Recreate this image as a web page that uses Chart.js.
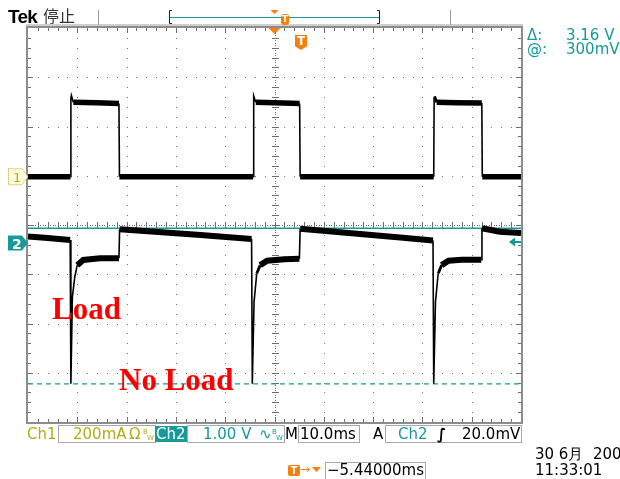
<!DOCTYPE html>
<html>
<head>
<meta charset="utf-8">
<script src="https://cdn.jsdelivr.net/npm/chart.js@4.4.1/dist/chart.umd.min.js"></script>
<style>
  body { margin: 0; background: #fff; }
  #scope { position: relative; width: 620px; height: 479px; overflow: hidden; }
  #scope canvas { position: absolute; left: 0; top: 0; }
  .t { position: absolute; font: 15px 'DejaVu Sans', sans-serif; line-height: 15px; white-space: pre; }
  .olive { color: #b2ac14; }
  .teal { color: #17999a; }
  .box { position: absolute; border: 1px solid #a8a8a8; box-sizing: border-box; }
  .bw { position: absolute; font: 7px 'DejaVu Sans', sans-serif; line-height: 7px; }
  .note { position: absolute; font: bold 31px 'Liberation Serif', serif; line-height: 31px; color: #ff0000; white-space: pre; }
  .tag { position: absolute; background: #f77f0c; color: #fff; font: bold 10px 'DejaVu Sans', sans-serif; text-align: center; }
</style>
</head>
<body>
<div id="scope">
  <canvas id="wave" width="620" height="479"></canvas>

  <div class="t" style="left:8px;top:7px;font:bold 19px 'Liberation Sans',sans-serif;line-height:19px;letter-spacing:-0.8px;">Tek</div>
  <div class="t" style="left:43px;top:7px;font:16px 'Noto Sans CJK SC',sans-serif;line-height:16px;color:#333;">停止</div>

  <div class="tag" style="left:281px;top:14px;width:8px;height:11px;line-height:11px;border-radius:3px;font-size:9px;">T</div>
  <div class="tag" style="left:295px;top:35px;width:12px;height:15px;line-height:13px;font-size:12px;clip-path:polygon(0 0,100% 0,100% 75%,50% 100%,0 75%);">T</div>

  <div class="t teal" style="left:527px;top:28px;">Δ:</div>
  <div class="t teal" style="left:566px;top:28px;">3.16 V</div>
  <div class="t teal" style="left:527px;top:42px;">@:</div>
  <div class="t teal" style="left:566px;top:42px;">300mV</div>

  <div class="t olive" style="left:13px;top:170px;font-size:13px;">1</div>
  <div class="t" style="left:12px;top:236px;font:bold 14px 'DejaVu Sans',sans-serif;color:#fff;">2</div>

  <div class="note" style="left:52px;top:293px;">Load</div>
  <div class="note" style="left:119px;top:364px;">No Load</div>

  <!-- status bar -->
  <div class="t olive" style="left:27px;top:427px;">Ch1</div>
  <div class="box" style="left:58px;top:425px;width:98px;height:18px;"></div>
  <div class="t olive" style="left:73px;top:427px;">200mA</div>
  <div class="t olive" style="left:129px;top:427px;">Ω</div>
  <div class="bw olive" style="left:143px;top:429px;">B</div>
  <div class="bw olive" style="left:147px;top:435px;">W</div>
  <div style="position:absolute;left:155px;top:426px;width:32px;height:16px;background:#17999a;"></div>
  <div class="t" style="left:156px;top:427px;color:#fff;">Ch2</div>
  <div class="box" style="left:187px;top:425px;width:98px;height:18px;"></div>
  <div class="t teal" style="left:203px;top:427px;">1.00 V</div>
  <div class="t teal" style="left:259px;top:427px;">∿</div>
  <div class="bw teal" style="left:272px;top:429px;">B</div>
  <div class="bw teal" style="left:276px;top:435px;">W</div>
  <div class="t" style="left:285px;top:427px;">M</div>
  <div class="box" style="left:298px;top:425px;width:62px;height:18px;"></div>
  <div class="t" style="left:300px;top:427px;">10.0ms</div>
  <div class="t" style="left:373px;top:427px;">A</div>
  <div class="box" style="left:385px;top:425px;width:137px;height:18px;"></div>
  <div class="t teal" style="left:398px;top:427px;">Ch2</div>
  <div class="t" style="left:437px;top:427px;font-weight:bold;">∫</div>
  <div class="t" style="left:462px;top:427px;">20.0mV</div>

  <div class="tag" style="left:288px;top:465px;width:12px;height:11px;line-height:11px;border-radius:2px;">T</div>
  <div class="t" style="left:300px;top:462px;color:#f77f0c;font-size:12px;">→</div>
  <div class="box" style="left:325px;top:462px;width:101px;height:18px;"></div>
  <div class="t" style="left:327px;top:463px;">−5.44000ms</div>
  <div class="t" style="left:535px;top:447px;">30 6月  200</div>
  <div class="t" style="left:535px;top:463px;">11:33:01</div>
</div>

<script>
// time in ms, 10 ms/div, screen centre = 0
const timeRange = [-50, 50]

// Ch1 : load current, mA (200 mA/div)
const ch1Time = [-50, -41.38, -41.3, -41.2, -40.8, -36, -31.55, -31.45,
  -4.35, -4.27, -4.17, -3.8, 0, 5.1, 5.2,
  32.3, 32.38, 32.48, 32.9, 37, 42.05, 42.15, 50]
const ch1Current = [0, 0, 318, 330, 302, 300, 297, 0,
  0, 318, 328, 302, 300, 297, 0,
  0, 318, 326, 302, 300, 299, 0, 0]

// Ch2 : output voltage, V (1.00 V/div)
const ch2Time = [-50, -46, -41.45, -41.3, -41.0, -40.5, -40.0, -38.8, -35.4, -31.55, -31.42, -15, -4.65,
  -4.5, -4.15, -3.6, -2.9, -1.5, 2, 5.05, 5.2, 25.5, 32.15,
  32.3, 32.65, 33.2, 33.9, 35.3, 38, 41.95, 42.08, 45.7, 50]
const ch2Volts = [0.13, 0.10, 0.06, -2.86, -1.10, -0.68, -0.45, -0.345, -0.31, -0.31, 0.28, 0.16, 0.08,
  -2.86, -1.20, -0.62, -0.45, -0.36, -0.33, -0.32, 0.29, 0.11, 0.05,
  -2.86, -1.20, -0.62, -0.45, -0.36, -0.34, -0.34, 0.30, 0.23, 0.20]

// cursor readout: Δ 3.16 V, @ 300mV
const cursorVolts = [0.30, -2.86]

const teal = '#17999a'
const orange = '#f77f0c'

const toPoints = (xs, ys) => xs.map((t, i) => ({ x: t, y: ys[i] }))

// thin where the trace is steep, thick (noise band) where it is flat
const traceWidth = (flat) => (ctx) => {
  const dx = Math.abs(ctx.p1.x - ctx.p0.x)
  const dy = Math.abs(ctx.p1.y - ctx.p0.y)
  if (dy > 3 * dx) return 1.6
  if (dy > dx) return 2.8
  return flat
}

const graticule = {
  id: 'graticule',
  beforeDatasetsDraw(chart) {
    const { ctx, chartArea: a, scales: { x, y2 } } = chart
    const xAt = d => Math.round(x.getPixelForValue(x.min + d * 10))
    const yAt = d => Math.round(y2.getPixelForValue(y2.max - d))
    ctx.save()
    ctx.fillStyle = '#6e6e6e'
    // dotted division lines
    for (let i = 1; i < 10; i++) {
      if (i === 5) continue
      for (let s = 1; s < 40; s++) ctx.fillRect(xAt(i), yAt(s / 5), 1, 1)
    }
    for (let j = 1; j < 8; j++) {
      if (j === 4) continue
      for (let s = 1; s < 50; s++) ctx.fillRect(xAt(s / 5), yAt(j), 1, 1)
    }
    // centre cross ruler
    const cx = xAt(5), cy = yAt(4)
    for (let s = 1; s < 160; s++) ctx.fillRect(cx, yAt(s / 20), 1, 1)
    for (let s = 1; s < 200; s++) ctx.fillRect(xAt(s / 20), cy, 1, 1)
    for (let s = 1; s < 40; s++) ctx.fillRect(cx - 3, yAt(s / 5), 7, 1)
    for (let s = 1; s < 50; s++) ctx.fillRect(xAt(s / 5), cy - 3, 1, 7)
    // ticks along the frame
    for (let s = 1; s < 50; s++) {
      const len = s % 5 === 0 ? 5 : 3
      ctx.fillRect(xAt(s / 5), a.top, 1, len)
      ctx.fillRect(xAt(s / 5), a.bottom - len, 1, len)
    }
    for (let s = 1; s < 40; s++) {
      const len = s % 5 === 0 ? 5 : 3
      ctx.fillRect(a.left, yAt(s / 5), len, 1)
      ctx.fillRect(a.right - len, yAt(s / 5), len, 1)
    }
    ctx.restore()
  },
  afterDatasetsDraw(chart) {
    const { ctx, chartArea: a, scales: { x, y1, y2 } } = chart
    ctx.save()
    // frame
    ctx.fillStyle = '#cfcfcf'
    ctx.fillRect(a.left - 2, a.top - 4, a.width + 4, 3)
    ctx.strokeStyle = '#8c8c8c'
    ctx.lineWidth = 2
    ctx.strokeRect(a.left - 1, a.top - 1, a.width + 2, a.height + 2)

    // record window bar at the top
    ctx.strokeStyle = '#9a9a9a'
    ctx.lineWidth = 1
    ctx.beginPath()
    ctx.moveTo(98.5, 10); ctx.lineTo(98.5, 25)
    ctx.moveTo(450.5, 10); ctx.lineTo(450.5, 25)
    ctx.stroke()
    ctx.strokeStyle = '#222'
    ctx.beginPath()
    ctx.moveTo(172, 10.5); ctx.lineTo(169.5, 10.5); ctx.lineTo(169.5, 23.5); ctx.lineTo(172, 23.5)
    ctx.moveTo(377, 10.5); ctx.lineTo(379.5, 10.5); ctx.lineTo(379.5, 23.5); ctx.lineTo(377, 23.5)
    ctx.stroke()
    ctx.strokeStyle = teal
    ctx.beginPath()
    ctx.moveTo(170, 17.5); ctx.lineTo(379, 17.5)
    ctx.stroke()

    // trigger position markers
    const tx = x.getPixelForValue(0)
    ctx.fillStyle = orange
    ctx.beginPath()
    ctx.moveTo(tx - 4, 10); ctx.lineTo(tx + 4, 10); ctx.lineTo(tx, 14)
    ctx.fill()
    ctx.beginPath()
    ctx.moveTo(tx - 6, a.top); ctx.lineTo(tx + 6, a.top); ctx.lineTo(tx, a.top + 6)
    ctx.fill()
    ctx.beginPath()
    ctx.moveTo(312, 467); ctx.lineTo(321, 467); ctx.lineTo(316.5, 472)
    ctx.fill()

    // channel ground markers
    const g1 = y1.getPixelForValue(0)
    ctx.beginPath()
    ctx.moveTo(8.5, g1 - 8); ctx.lineTo(22, g1 - 8); ctx.lineTo(28, g1); ctx.lineTo(22, g1 + 8); ctx.lineTo(8.5, g1 + 8)
    ctx.closePath()
    ctx.fillStyle = '#fffde0'
    ctx.fill()
    ctx.setLineDash([1, 1])
    ctx.strokeStyle = '#b2ac14'
    ctx.stroke()
    ctx.setLineDash([])

    const g2 = y2.getPixelForValue(0)
    ctx.beginPath()
    ctx.moveTo(8, g2 - 7.5); ctx.lineTo(22, g2 - 7.5); ctx.lineTo(28, g2); ctx.lineTo(22, g2 + 7.5); ctx.lineTo(8, g2 + 7.5)
    ctx.closePath()
    ctx.fillStyle = teal
    ctx.fill()

    // trigger level (20 mV on Ch2)
    const tl = y2.getPixelForValue(0.02)
    ctx.beginPath()
    ctx.moveTo(509, tl); ctx.lineTo(515, tl - 4.5); ctx.lineTo(515, tl + 4.5)
    ctx.fill()
    ctx.fillRect(514, tl - 1, 7, 2)
    ctx.restore()
  }
}

new Chart(document.getElementById('wave'), {
  type: 'line',
  data: {
    datasets: [
      {
        label: 'Ch1',
        data: toPoints(ch1Time, ch1Current),
        yAxisID: 'y1',
        borderColor: '#000',
        borderWidth: 5.5,
        pointRadius: 0,
        segment: { borderWidth: traceWidth(5.5) },
      },
      {
        label: 'Ch2',
        data: toPoints(ch2Time, ch2Volts),
        yAxisID: 'y2',
        borderColor: '#000',
        borderWidth: 6,
        pointRadius: 0,
        segment: { borderWidth: traceWidth(6) },
      },
      {
        label: 'cursor 1',
        data: toPoints(timeRange, [cursorVolts[0], cursorVolts[0]]),
        yAxisID: 'y2',
        borderColor: teal,
        borderWidth: 1.5,
        pointRadius: 0,
      },
      {
        label: 'cursor 2',
        data: toPoints(timeRange, [cursorVolts[1], cursorVolts[1]]),
        yAxisID: 'y2',
        borderColor: teal,
        borderWidth: 1.2,
        borderDash: [5, 4],
        pointRadius: 0,
      },
    ]
  },
  options: {
    responsive: false,
    animation: false,
    devicePixelRatio: 1,
    layout: { padding: { left: 28, top: 28, right: 99, bottom: 57 } },
    plugins: {
      legend: { display: false },
      tooltip: { enabled: false },
      title: { display: false },
    },
    scales: {
      x: { type: 'linear', min: timeRange[0], max: timeRange[1], display: false },
      y1: { type: 'linear', min: -996, max: 604, display: false },
      y2: { type: 'linear', min: -3.635, max: 4.365, display: false },
    }
  },
  plugins: [graticule]
})
</script>
</body>
</html>
